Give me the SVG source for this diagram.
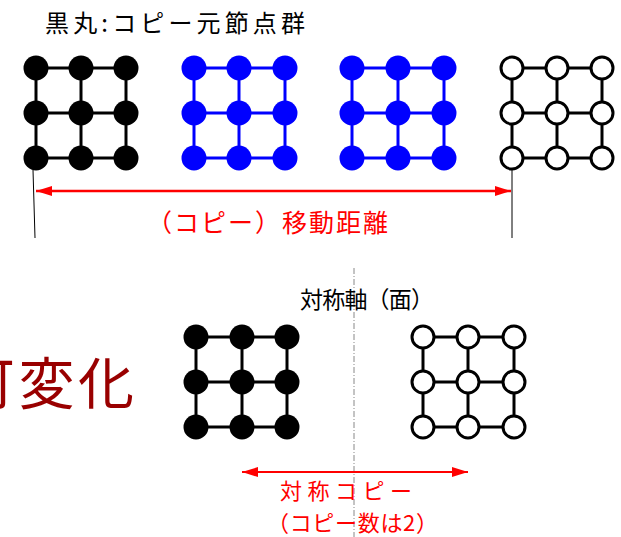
<svg xmlns="http://www.w3.org/2000/svg" width="621" height="537" viewBox="0 0 621 537">
<defs>
<style>
.t{font-family:"Noto Sans CJK JP","Liberation Sans",sans-serif}
.gk line{stroke:#000;stroke-width:3}
.gb line{stroke:#0000ff;stroke-width:3}
.fk{fill:#000}
.fb{fill:#0000ff}
.op{fill:#fff;stroke:#000;stroke-width:3}
.red{stroke:#ff0000;fill:none}
</style>
<marker id="ah" viewBox="0 0 16 10" refX="16" refY="5" markerWidth="16" markerHeight="10" markerUnits="userSpaceOnUse" orient="auto-start-reverse">
<path d="M0,0 L16,5 L0,10 Z" fill="#ff0000"/>
</marker>
</defs>
<rect width="621" height="537" fill="#fff"/>
<text class="t" x="45" y="32" font-size="24" textLength="260" fill="#000">黒丸:コピー元節点群</text>

<g id="grid1" class="gk">
<line x1="36" y1="68" x2="126" y2="68"/><line x1="36" y1="113" x2="126" y2="113"/><line x1="36" y1="158" x2="126" y2="158"/>
<line x1="36" y1="68" x2="36" y2="158"/><line x1="81" y1="68" x2="81" y2="158"/><line x1="126" y1="68" x2="126" y2="158"/>
<g class="fk"><circle cx="36" cy="68" r="12.5"/><circle cx="81" cy="68" r="12.5"/><circle cx="126" cy="68" r="12.5"/>
<circle cx="36" cy="113" r="12.5"/><circle cx="81" cy="113" r="12.5"/><circle cx="126" cy="113" r="12.5"/>
<circle cx="36" cy="158" r="12.5"/><circle cx="81" cy="158" r="12.5"/><circle cx="126" cy="158" r="12.5"/></g>
</g>

<g id="grid2" class="gb">
<line x1="194" y1="68" x2="285" y2="68"/><line x1="194" y1="113" x2="285" y2="113"/><line x1="194" y1="158" x2="285" y2="158"/>
<line x1="194" y1="68" x2="194" y2="158"/><line x1="239" y1="68" x2="239" y2="158"/><line x1="285" y1="68" x2="285" y2="158"/>
<g class="fb"><circle cx="194" cy="68" r="12.5"/><circle cx="239" cy="68" r="12.5"/><circle cx="285" cy="68" r="12.5"/>
<circle cx="194" cy="113" r="12.5"/><circle cx="239" cy="113" r="12.5"/><circle cx="285" cy="113" r="12.5"/>
<circle cx="194" cy="158" r="12.5"/><circle cx="239" cy="158" r="12.5"/><circle cx="285" cy="158" r="12.5"/></g>
</g>

<g id="grid3" class="gb">
<line x1="352" y1="68" x2="444" y2="68"/><line x1="352" y1="113" x2="444" y2="113"/><line x1="352" y1="158" x2="444" y2="158"/>
<line x1="352" y1="68" x2="352" y2="158"/><line x1="398" y1="68" x2="398" y2="158"/><line x1="444" y1="68" x2="444" y2="158"/>
<g class="fb"><circle cx="352" cy="68" r="12.5"/><circle cx="398" cy="68" r="12.5"/><circle cx="444" cy="68" r="12.5"/>
<circle cx="352" cy="113" r="12.5"/><circle cx="398" cy="113" r="12.5"/><circle cx="444" cy="113" r="12.5"/>
<circle cx="352" cy="158" r="12.5"/><circle cx="398" cy="158" r="12.5"/><circle cx="444" cy="158" r="12.5"/></g>
</g>

<g id="grid4" class="gk">
<line x1="512" y1="68" x2="602" y2="68"/><line x1="512" y1="113" x2="602" y2="113"/><line x1="512" y1="158" x2="602" y2="158"/>
<line x1="512" y1="68" x2="512" y2="158"/><line x1="557" y1="68" x2="557" y2="158"/><line x1="602" y1="68" x2="602" y2="158"/>
<g class="op"><circle cx="512" cy="68" r="11"/><circle cx="557" cy="68" r="11"/><circle cx="602" cy="68" r="11"/>
<circle cx="512" cy="113" r="11"/><circle cx="557" cy="113" r="11"/><circle cx="602" cy="113" r="11"/>
<circle cx="512" cy="158" r="11"/><circle cx="557" cy="158" r="11"/><circle cx="602" cy="158" r="11"/></g>
</g>

<g id="connectors">
<line x1="33" y1="170" x2="35" y2="238" stroke="#000" stroke-width="1"/>
<line x1="512" y1="170" x2="512" y2="238" stroke="#000" stroke-width="1"/>
<line class="red" x1="36" y1="191" x2="511" y2="191" stroke-width="2.5" marker-start="url(#ah)" marker-end="url(#ah)"/>
<line x1="354" y1="268" x2="354" y2="537" stroke="#888" stroke-width="1" stroke-dasharray="6,2,1,2"/>
<line class="red" x1="242" y1="472" x2="468" y2="472" stroke-width="2" marker-start="url(#ah)" marker-end="url(#ah)"/>
</g>

<text class="t" x="147" y="232" font-size="25" textLength="241" fill="#ff0000">（コピー）移動距離</text>

<text class="t" x="300" y="308" font-size="23" textLength="134" fill="#000">対称軸（面）</text>

<text class="t" x="-41" y="404" font-size="56" textLength="175" fill="#990000">可変化</text>

<g id="grid5" class="gk">
<line x1="196" y1="337" x2="287" y2="337"/><line x1="196" y1="382" x2="287" y2="382"/><line x1="196" y1="427" x2="287" y2="427"/>
<line x1="196" y1="337" x2="196" y2="427"/><line x1="242" y1="337" x2="242" y2="427"/><line x1="287" y1="337" x2="287" y2="427"/>
<g class="fk"><circle cx="196" cy="337" r="12.5"/><circle cx="242" cy="337" r="12.5"/><circle cx="287" cy="337" r="12.5"/>
<circle cx="196" cy="382" r="12.5"/><circle cx="242" cy="382" r="12.5"/><circle cx="287" cy="382" r="12.5"/>
<circle cx="196" cy="427" r="12.5"/><circle cx="242" cy="427" r="12.5"/><circle cx="287" cy="427" r="12.5"/></g>
</g>

<g id="grid6" class="gk">
<line x1="423" y1="337" x2="514" y2="337"/><line x1="423" y1="382" x2="514" y2="382"/><line x1="423" y1="427" x2="514" y2="427"/>
<line x1="423" y1="337" x2="423" y2="427"/><line x1="468" y1="337" x2="468" y2="427"/><line x1="514" y1="337" x2="514" y2="427"/>
<g class="op"><circle cx="423" cy="337" r="11"/><circle cx="468" cy="337" r="11"/><circle cx="514" cy="337" r="11"/>
<circle cx="423" cy="382" r="11"/><circle cx="468" cy="382" r="11"/><circle cx="514" cy="382" r="11"/>
<circle cx="423" cy="427" r="11"/><circle cx="468" cy="427" r="11"/><circle cx="514" cy="427" r="11"/></g>
</g>

<text class="t" x="280" y="499" font-size="22" textLength="132" fill="#ff0000">対称コピー</text>
<text class="t" x="267" y="531" font-size="22" textLength="171" fill="#ff0000">（コピー数は2）</text>
</svg>
